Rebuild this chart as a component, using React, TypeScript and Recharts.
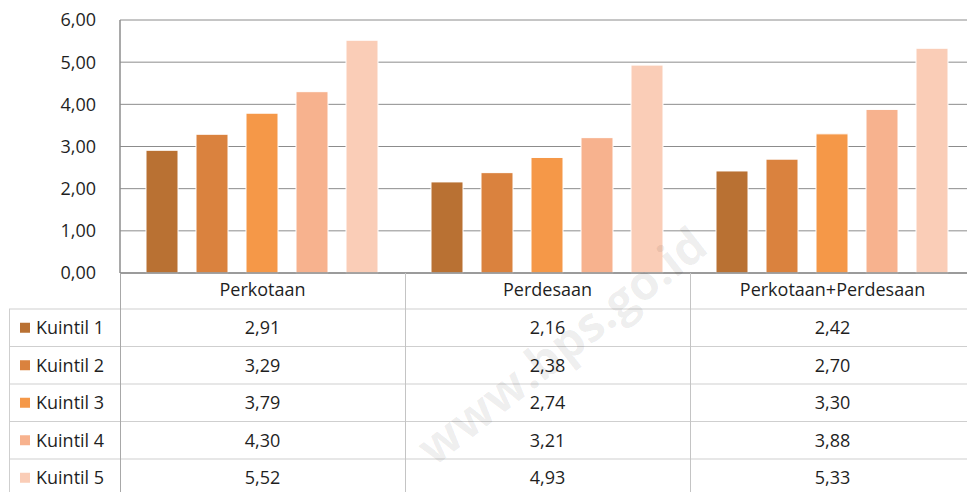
import React from 'react';
import { BarChart, Bar, XAxis, YAxis, CartesianGrid } from 'recharts';

const categories = ['Perkotaan', 'Perdesaan', 'Perkotaan+Perdesaan'];
const seriesNames = ['Kuintil 1', 'Kuintil 2', 'Kuintil 3', 'Kuintil 4', 'Kuintil 5'];
const kuintil1 = [2.91, 2.16, 2.42];
const kuintil2 = [3.29, 2.38, 2.7];
const kuintil3 = [3.79, 2.74, 3.3];
const kuintil4 = [4.3, 3.21, 3.88];
const kuintil5 = [5.52, 4.93, 5.33];
const yTicks = [0, 1, 2, 3, 4, 5, 6];
const colors = ['#B97133', '#DA823E', '#F59848', '#F7B28E', '#FACDB7'];

const seriesValues = [kuintil1, kuintil2, kuintil3, kuintil4, kuintil5];
const keys = ['k1', 'k2', 'k3', 'k4', 'k5'];

const data = categories.map((c, i) => {
  const row: any = { category: c };
  keys.forEach((k, s) => {
    row[k] = seriesValues[s][i];
  });
  return row;
});

const fmt = (v: number) => v.toFixed(2).replace('.', ',');

const FONT = '"Open Sans", "Noto Sans", sans-serif';
const TEXT = '#1f1f1f';

// layout
const W = 975;
const H = 492;
const PLOT_LEFT = 120;
const PLOT_TOP = 20;
const PLOT_BOTTOM = 273;
const HEADER_H = 36;
const ROW_H = 37.5;
const CAT_W = (W - PLOT_LEFT) / categories.length;

const Table = () => {
  const headerBottom = PLOT_BOTTOM + HEADER_H;
  const lines: any[] = [];
  for (let r = 0; r < seriesNames.length; r++) {
    const y = headerBottom + r * ROW_H;
    lines.push(<line key={'h' + r} x1={9} x2={967} y1={y} y2={y} stroke="#cfcfcf" strokeWidth={1} />);
  }
  return (
    <svg width={967} height={H} style={{ position: 'absolute', left: 0, top: 0, pointerEvents: 'none' }}>
      {lines}
      <line x1={9.5} x2={9.5} y1={headerBottom} y2={H} stroke="#cfcfcf" strokeWidth={1} />
      {categories.map((c, i) => (
        <line
          key={'v' + i}
          x1={PLOT_LEFT + i * CAT_W + 0.5}
          x2={PLOT_LEFT + i * CAT_W + 0.5}
          y1={PLOT_BOTTOM}
          y2={H}
          stroke={i === 0 ? '#a8a8a8' : '#c4c4c4'}
          strokeWidth={1}
        />
      ))}
      {seriesNames.map((name, r) => {
        const cy = headerBottom + r * ROW_H + ROW_H / 2;
        return (
          <g key={name}>
            <rect x={20} y={cy - 5} width={10} height={10} fill={colors[r]} />
            <text x={36} y={cy} dy="0.36em" fontFamily={FONT} fontSize={18} fill={TEXT}>
              {name}
            </text>
            {categories.map((c, i) => (
              <text
                key={c}
                x={PLOT_LEFT + i * CAT_W + CAT_W / 2}
                y={cy}
                dy="0.36em"
                textAnchor="middle"
                fontFamily={FONT}
                fontSize={18}
                fill={TEXT}
              >
                {fmt(seriesValues[r][i])}
              </text>
            ))}
          </g>
        );
      })}
      <text
        x={562}
        y={346}
        textAnchor="middle"
        dy="0.35em"
        fontFamily={FONT}
        fontWeight={700}
        fontSize={48}
        fill="#000"
        fillOpacity={0.07}
        transform="rotate(-38 562 346)"
      >
        www.bps.go.id
      </text>
    </svg>
  );
};

export default function App() {
  return (
    <div style={{ position: 'absolute', left: 0, top: 0, width: 967, height: H, overflow: 'hidden', background: '#fff' }}>
      <BarChart
        width={W}
        height={H}
        data={data}
        margin={{ top: PLOT_TOP, right: 0, left: 0, bottom: H - PLOT_BOTTOM - HEADER_H }}
        barCategoryGap={26}
        barGap={18}
      >
        <CartesianGrid vertical={false} stroke="#8c8c8c" strokeWidth={1} />
        <XAxis
          dataKey="category"
          height={HEADER_H}
          axisLine={{ stroke: '#8c8c8c', strokeWidth: 1.5 }}
          tickLine={false}
          tickSize={0}
          tickMargin={10}
          interval={0}
          tick={{ fontFamily: FONT, fontSize: 18, fill: TEXT }}
        />
        <YAxis
          width={PLOT_LEFT}
          domain={[0, 6]}
          ticks={yTicks}
          tickFormatter={fmt}
          axisLine={{ stroke: '#8c8c8c', strokeWidth: 1.5 }}
          tickLine={false}
          tickMargin={18}
          tick={{ fontFamily: FONT, fontSize: 18, fill: TEXT }}
        />
        {keys.map((k, s) => (
          <Bar
            key={k}
            dataKey={k}
            name={seriesNames[s]}
            fill={colors[s]}
            stroke="#ffffff"
            strokeWidth={1}
            isAnimationActive={false}
          />
        ))}
      </BarChart>
      <Table />
    </div>
  );
}
